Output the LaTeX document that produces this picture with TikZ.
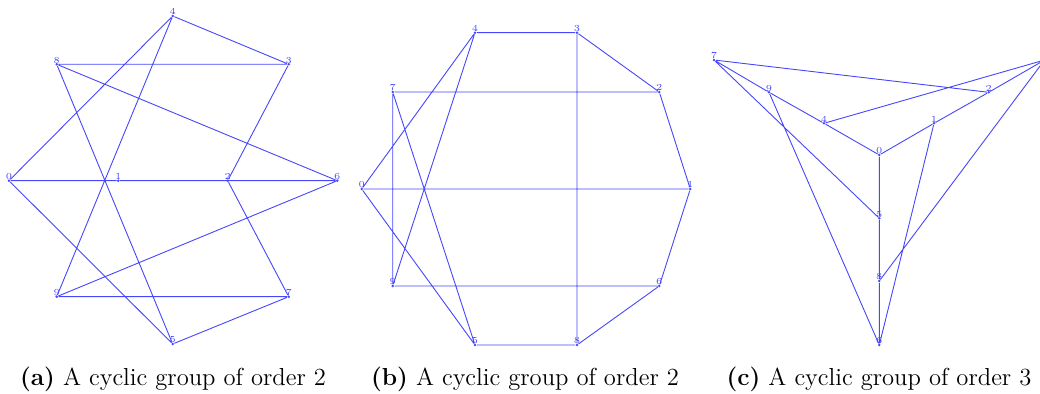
\documentclass[tikz,border=0pt]{standalone}
\usepackage{tikz}
\usetikzlibrary{positioning}
\definecolor{GraphBlue}{RGB}{70, 70, 250}

\begin{document}
\begin{tikzpicture}[x=0.5pt, y=-0.5pt,
    vtx/.style={circle, fill=GraphBlue, inner sep=0pt, minimum size=1.4pt,
      label={[lbl]above:#1}},
    lbl/.style={text=GraphBlue, inner sep=0pt, label distance=-0.6pt,
      font=\fontsize{4.6}{5}\selectfont},
    link/.style={draw=GraphBlue, line width=0.45pt},
    subcap/.style={anchor=base, font=\fontsize{12.3}{14}\selectfont}]
    \useasboundingbox (0,0) rectangle (1040,394);

    % (a) order 2
    \node[vtx=0] (a0) at (9, 180.7) {};
    \node[vtx=1] (a1) at (118.3, 180.7) {};
    \node[vtx=2] (a2) at (227.7, 180.7) {};
    \node[vtx=3] (a3) at (288.7, 64.3) {};
    \node[vtx=4] (a4) at (172.7, 16) {};
    \node[vtx=5] (a5) at (172.7, 344) {};
    \node[vtx=6] (a6) at (337.3, 180.7) {};
    \node[vtx=7] (a7) at (288.7, 296.7) {};
    \node[vtx=8] (a8) at (56.7, 64.3) {};
    \node[vtx=9] (a9) at (56.7, 296.7) {};

    \draw[link] (a0) -- (a1) (a0) -- (a4) (a0) -- (a5) (a1) -- (a2) (a1) -- (a6)
      (a2) -- (a3) (a2) -- (a7) (a3) -- (a4) (a3) -- (a8) (a4) -- (a9)
      (a5) -- (a7) (a5) -- (a8) (a6) -- (a8) (a6) -- (a9) (a7) -- (a9);

    % (b) order 2
    \node[vtx=0] (b0) at (361.7, 189) {};
    \node[vtx=1] (b1) at (690.3, 189) {};
    \node[vtx=2] (b2) at (659.3, 92) {};
    \node[vtx=3] (b3) at (577, 32.7) {};
    \node[vtx=4] (b4) at (475, 32.7) {};
    \node[vtx=5] (b5) at (475, 345) {};
    \node[vtx=6] (b6) at (659.3, 286) {};
    \node[vtx=7] (b7) at (392.7, 92) {};
    \node[vtx=8] (b8) at (577, 345) {};
    \node[vtx=9] (b9) at (392.7, 286) {};

    \draw[link] (b0) -- (b1) (b0) -- (b4) (b0) -- (b5) (b1) -- (b2) (b1) -- (b6)
      (b2) -- (b3) (b2) -- (b7) (b3) -- (b4) (b3) -- (b8) (b4) -- (b9)
      (b5) -- (b7) (b5) -- (b8) (b6) -- (b8) (b6) -- (b9) (b7) -- (b9);

    % (c) order 3
    \node[vtx=0] (c0) at (879.3, 155) {};
    \node[vtx=1] (c1) at (934, 123.3) {};
    \node[vtx=2] (c2) at (988.7, 92.3) {};
    \node[vtx=3] (c3) at (1044.6, 60) {};
    \node[vtx=4] (c4) at (824, 123.3) {};
    \node[vtx=5] (c5) at (879.3, 218.3) {};
    \node[vtx=6] (c6) at (879.3, 345) {};
    \node[vtx=7] (c7) at (714, 60) {};
    \node[vtx=8] (c8) at (879.3, 281) {};
    \node[vtx=9] (c9) at (769, 92.3) {};

    \draw[link] (c0) -- (c1) (c0) -- (c4) (c0) -- (c5) (c1) -- (c2) (c1) -- (c6)
      (c2) -- (c3) (c2) -- (c7) (c3) -- (c4) (c3) -- (c8) (c4) -- (c9)
      (c5) -- (c7) (c5) -- (c8) (c6) -- (c8) (c6) -- (c9) (c7) -- (c9);

    \node[subcap] (capa) at (173, 386) {\textbf{(a)} A cyclic group of order 2};
    \node[subcap] (capb) at (525, 386) {\textbf{(b)} A cyclic group of order 2};
    \node[subcap] (capc) at (879, 386) {\textbf{(c)} A cyclic group of order 3};
  \end{tikzpicture}
\end{document}
